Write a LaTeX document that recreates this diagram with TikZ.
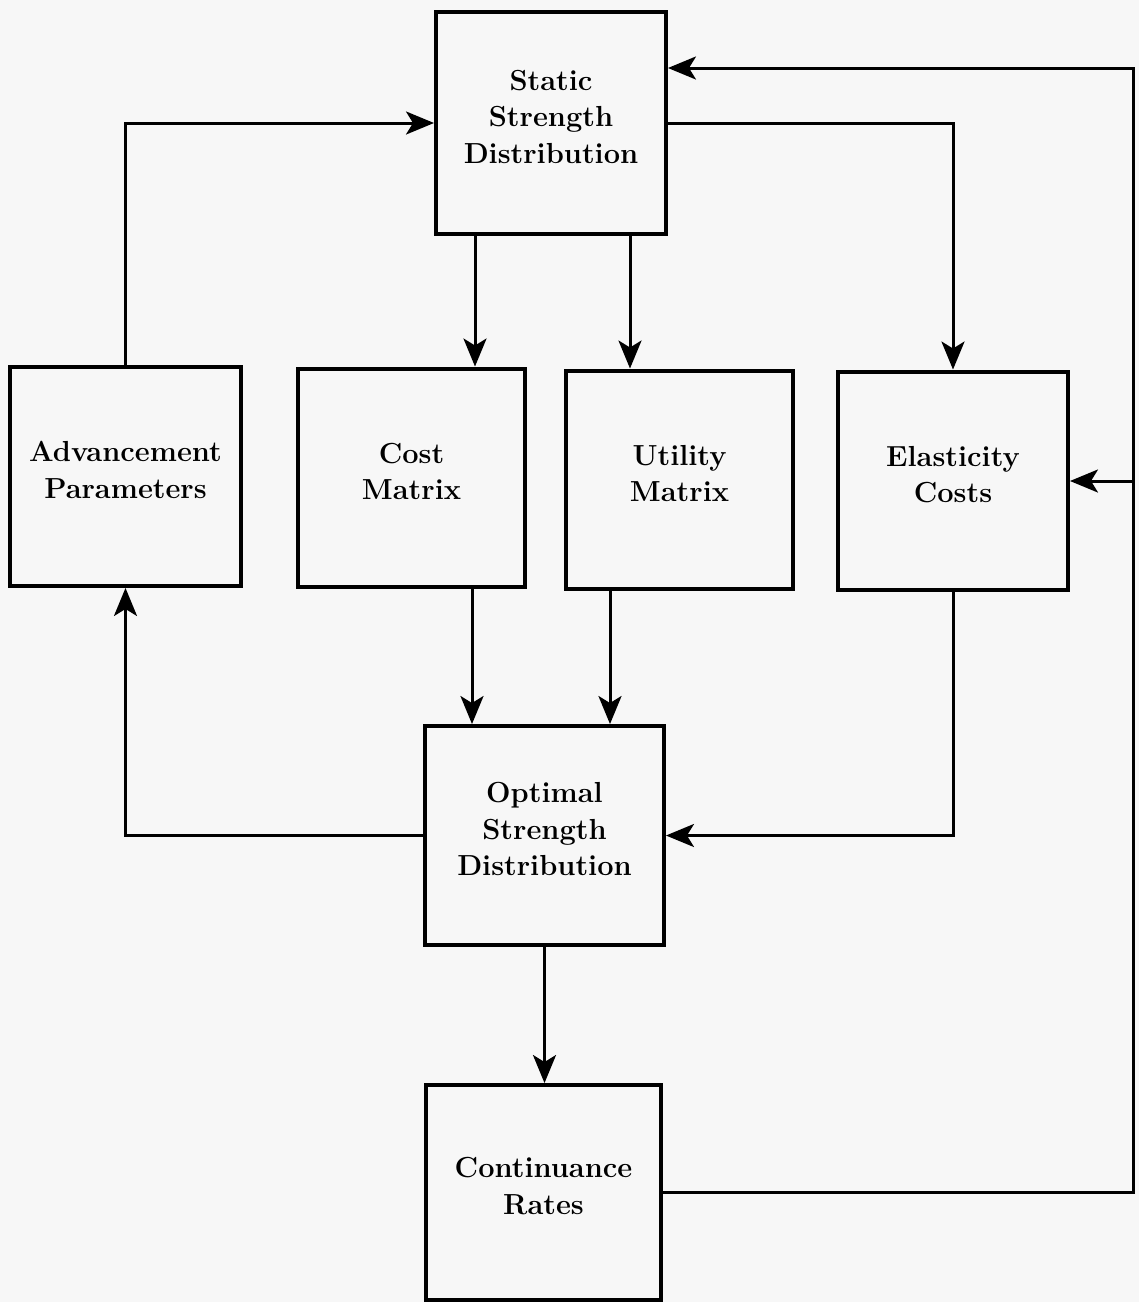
\documentclass[tikz,border=0pt]{standalone}
\usetikzlibrary{arrows.meta}

\begin{document}
\begin{tikzpicture}[x=0.02cm, y=-0.02cm,
    box/.style={draw, line width=0.08cm, fill=white!97!black, align=center,
        minimum height=4.38cm, inner sep=0pt, text depth=0.26cm,
        font=\fontsize{16.5}{20.8}\selectfont\bfseries},
    flow/.style={line width=0.06cm,
        -{Stealth[length=5.6mm, width=4.6mm, inset=1.4mm]}}]

    % Page area of the scan
    \useasboundingbox[fill=white!97!black] (0,0) rectangle (1139,1302);

    % Boxes of the flow chart
    \node[box, minimum width=4.6cm, minimum height=4.44cm] (static) at (551,123) {Static\\Strength\\Distribution};
    \node[box, minimum width=4.62cm] (adv) at (125.5,476.5) {Advancement\\Parameters};
    \node[box, minimum width=4.54cm] (cost) at (411.5,478) {Cost\\Matrix};
    \node[box, minimum width=4.54cm] (util) at (679.5,480) {Utility\\Matrix};
    \node[box, minimum width=4.6cm] (elast) at (953,481) {Elasticity\\Costs};
    \node[box, minimum width=4.78cm] (opt) at (544.5,835.5) {Optimal\\Strength\\Distribution};
    \node[box, minimum width=4.7cm, minimum height=4.3cm] (cont) at (543.5,1192.5) {Continuance\\Rates};

    % Points where the lines leave or join the boxes
    \coordinate (s1) at (475,234);
    \coordinate (s2) at (630,234);
    \coordinate (c1) at (472,587);
    \coordinate (u1) at (610,589);
    \coordinate (railtop) at (1133,68);

    % Static strength feeds the four boxes below
    \draw[flow] (adv.north) |- (static.west);
    \draw[flow] (s1) -- (s1 |- cost.north);
    \draw[flow] (s2) -- (s2 |- util.north);
    \draw[flow] (static.east) -| (elast.north);

    % Matrices and costs into the optimal distribution
    \draw[flow] (c1) -- (c1 |- opt.north);
    \draw[flow] (u1) -- (u1 |- opt.north);
    \draw[flow] (elast.south) |- (opt.east);
    \draw[flow] (opt.west) -| (adv.south);
    \draw[flow] (opt.south) -- (opt.south |- cont.north);

    % Feedback rail on the right
    \draw[flow] (cont.east) -- (cont.east -| railtop) -- (railtop) -- (railtop -| static.east);
    \draw[flow] (railtop |- elast.east) -- (elast.east);

\end{tikzpicture}
\end{document}
